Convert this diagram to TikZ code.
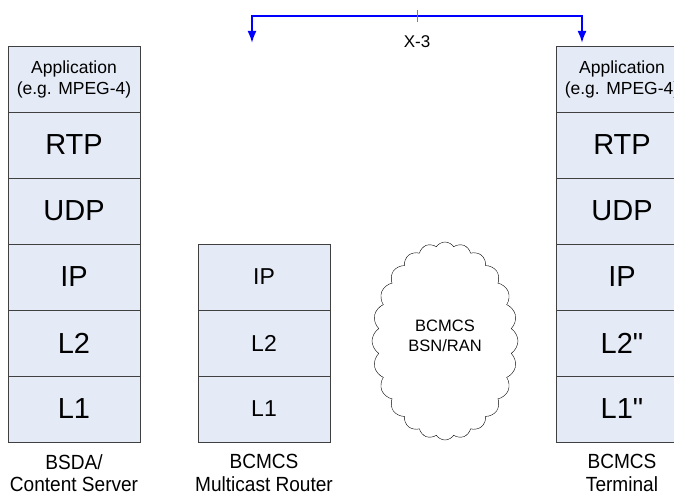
\documentclass[tikz,border=0pt]{standalone}
\usepackage{fontspec}
\setmainfont{Liberation Sans}[Ligatures=TeXOff]
\newfontfamily\narrowfont{Liberation Sans}[FakeStretch=0.93]
\usepackage{tikz}
\usetikzlibrary{positioning,arrows.meta,shapes.symbols}
\definecolor{layerfill}{RGB}{229,235,246}
\definecolor{layerline}{RGB}{64,64,64}

\tikzset{
    layer/.style={draw=layerline,line width=0.9pt,fill=layerfill,minimum width=132pt,
        minimum height=66pt,inner sep=0pt,outer sep=0pt,align=center},
    big/.style={font=\fontsize{29}{31}\selectfont},
    mid/.style={font=\fontsize{23}{25}\selectfont},
    small/.style={font=\fontsize{17.5}{21}\selectfont},
    caption/.style={align=center,font=\narrowfont\fontsize{20.5}{22.5}\selectfont}
}

\begin{document}
\begin{tikzpicture}[>={Latex[length=12pt,width=9pt]},x=1pt,y=-1pt]
    \clip (0,0) rectangle (674,494);
    \useasboundingbox (0,0) rectangle (674,494);

    % content server
    \node [layer,small] (srvapp) at (74,79) {Application\\(e.g. MPEG-4)};
    \node [layer,big,below=0pt of srvapp] (srvrtp) {RTP};
    \node [layer,big,below=0pt of srvrtp] (srvudp) {UDP};
    \node [layer,big,below=0pt of srvudp] (srvip) {IP};
    \node [layer,big,below=0pt of srvip] (srvltwo) {L2};
    \node [layer,big,below=0pt of srvltwo] (srvlone) {L1};

    % multicast router
    \node [layer,mid] (rtrip) at (264,277) {IP};
    \node [layer,mid,below=0pt of rtrip] (rtrltwo) {L2};
    \node [layer,mid,below=0pt of rtrltwo] (rtrlone) {L1};

    % terminal
    \node [layer,small] (trmapp) at (622,79) {Application\\(e.g. MPEG-4)};
    \node [layer,big,below=0pt of trmapp] (trmrtp) {RTP};
    \node [layer,big,below=0pt of trmrtp] (trmudp) {UDP};
    \node [layer,big,below=0pt of trmudp] (trmip) {IP};
    \node [layer,big,below=0pt of trmip] (trmltwo) {L2"};
    \node [layer,big,below=0pt of trmltwo] (trmlone) {L1"};

    % radio network
    \node [cloud,draw,thin,cloud puffs=24,cloud puff arc=115,aspect=0.73,
        minimum width=146pt,minimum height=198pt,inner sep=0pt] (bsn) at (445,341) {};
    \node [align=center,font=\fontsize{16.5}{19.5}\selectfont] (bsntext) at (445,336)
        {BCMCS\\BSN/RAN};

    \node [caption,below=9pt of srvlone] (srvname) {BSDA/\\Content Server};
    \node [caption,below=9pt of rtrlone] (rtrname) {BCMCS\\Multicast Router};
    \node [caption,below=9pt of trmlone] (trmname) {BCMCS\\Terminal};

    % x-3 reference point
    \coordinate (xleft) at (252,43);
    \coordinate (xright) at (582,43);
    \coordinate (xmid) at (417,16);
    \draw [->,blue,line width=2pt] (xmid) -| (xleft);
    \draw [->,blue,line width=2pt] (xmid) -| (xright);
    \draw [gray] (417,10) -- (417,22);
    \node [font=\fontsize{17}{19}\selectfont] (xthree) at (417,42) {X-3};
\end{tikzpicture}
\end{document}
